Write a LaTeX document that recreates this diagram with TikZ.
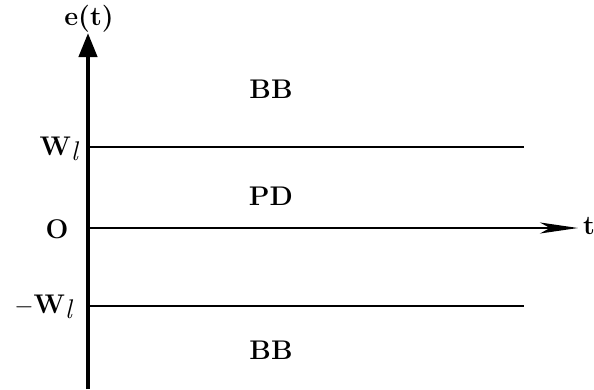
\documentclass[tikz,border=0pt]{standalone}
\usepackage{fontspec}
\usetikzlibrary{arrows.meta}
\begin{document}
\begin{tikzpicture}[x=1pt,y=-1pt,
  lbl/.style={font=\fontsize{27}{31}\selectfont\bfseries, inner sep=0pt},
  level/.style={line width=1.5pt},
  axis/.style={line width=4.2pt}]
\useasboundingbox (0,0) rectangle (594,389);
% coordinates
\coordinate (vbot) at (88,389);
\coordinate (vtop) at (88,33);
\coordinate (hleft) at (88,228);
\coordinate (hright) at (578,228);
\coordinate (wl) at (88,147);
\coordinate (wr) at (524,147);
\coordinate (mwl) at (88,306);
\coordinate (mwr) at (524,306);
% level lines
\draw[level] (wl) -- (wr);
\draw[level] (mwl) -- (mwr);
% axes
\draw[line width=2.6pt, -{Stealth[length=38pt,width=11pt,inset=10pt]}] (hleft) -- (hright);
\draw[axis, -{Triangle[length=24pt,width=18pt]}] (vbot) -- (vtop);
% labels
\node[lbl] (et) at (89,19) {e(t)};
\node[lbl] (t) at (589,226) {t};
\node[lbl] (zero) at (57,229) {O};
\node[lbl, anchor=base east] (W) at (78,155) {W\raisebox{-0.22em}{\mdseries\itshape l}};
\node[lbl, anchor=base east] (mW) at (72,313) {$-$W\raisebox{-0.22em}{\mdseries\itshape l}};
\node[lbl] (bb1) at (271,89) {BB};
\node[lbl] (pd) at (271,196) {PD};
\node[lbl] (bb2) at (271,350) {BB};
\end{tikzpicture}
\end{document}
